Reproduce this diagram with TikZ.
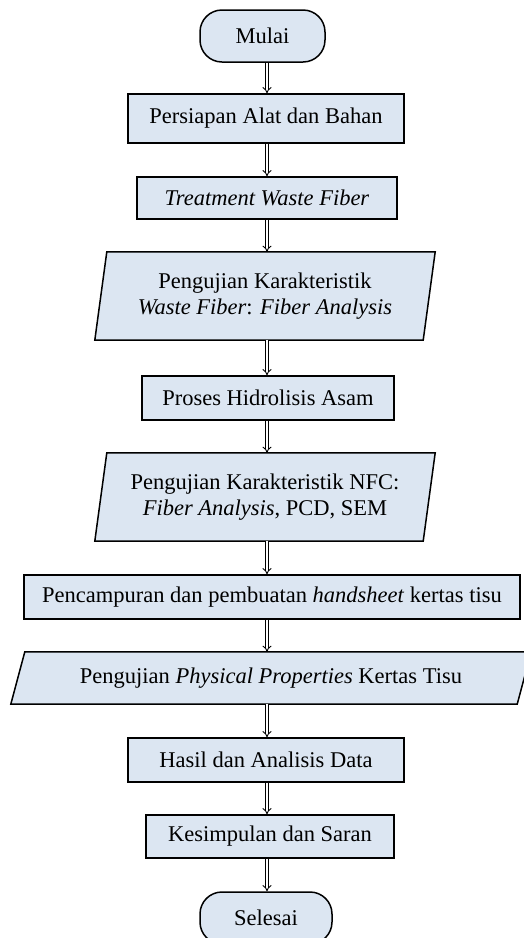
\documentclass[tikz,border=0pt]{standalone}
\usepackage{fontspec}
\setmainfont{Liberation Serif}
\usetikzlibrary{arrows.meta,backgrounds}
\definecolor{boxfill}{RGB}{220,230,242}
\newcommand\mainsz{\fontsize{22.5}{26}\selectfont}
\tikzset{
  box/.style={draw=black, line width=1.5pt, fill=boxfill, inner sep=0pt, align=center, font=\mainsz},
  term/.style={box, rounded corners=22pt},
  ptext/.style={inner sep=0pt, align=center, font=\mainsz},
  pshape/.style={draw=black, line width=1.5pt, fill=boxfill},
  arr/.style={double, double distance=2.2pt, line width=0.9pt, -{Implies}}
}
\begin{document}
\begin{tikzpicture}[x=1pt,y=-1pt]
\useasboundingbox (0,0) rectangle (523,938);
\coordinate (ax) at (267,0);

\node[term, minimum width=125pt, minimum height=52pt] (mulai) at (262.5,36) {Mulai};
\node[box, minimum width=276pt, minimum height=49pt] (persiapan) at (266,118.5) {Persiapan Alat dan Bahan};
\node[box, minimum width=260pt, minimum height=42pt] (treat) at (267,198) {\textit{Treatment Waste Fiber}};
\node[ptext, minimum width=340pt, minimum height=88pt] (uji1) at (265,296) {Pengujian Karakteristik\\\textit{Waste Fiber}: \textit{Fiber Analysis}};
\node[box, minimum width=252pt, minimum height=44pt] (hidro) at (268,398) {Proses Hidrolisis Asam};
\node[ptext, minimum width=340pt, minimum height=88pt] (uji2) at (265,497) {Pengujian Karakteristik NFC:\\\textit{Fiber Analysis}, PCD, SEM};
\node[box, minimum width=496pt, minimum height=44pt] (campur) at (272,597) {Pencampuran dan pembuatan \textit{handsheet} kertas tisu};
\node[ptext, minimum width=520pt, minimum height=52pt] (uji3) at (271,678) {Pengujian \textit{Physical Properties} Kertas Tisu};
\node[box, minimum width=276pt, minimum height=44pt] (hasil) at (266,760) {Hasil dan Analisis Data};
\node[box, minimum width=248pt, minimum height=43pt] (simpul) at (270,836.5) {Kesimpulan dan Saran};
\node[term, minimum width=132pt, minimum height=52pt] (selesai) at (266,918) {Selesai};

\begin{pgfonlayer}{background}
\draw[pshape] (uji1.south west) -- ([xshift=-12pt]uji1.south east) -- (uji1.north east) -- ([xshift=12pt]uji1.north west) -- cycle;
\draw[pshape] (uji2.south west) -- ([xshift=-12pt]uji2.south east) -- (uji2.north east) -- ([xshift=12pt]uji2.north west) -- cycle;
\draw[pshape] (uji3.south west) -- ([xshift=-14pt]uji3.south east) -- (uji3.north east) -- ([xshift=14pt]uji3.north west) -- cycle;
\end{pgfonlayer}

\draw[arr] (mulai.south -| ax) -- (persiapan.north -| ax);
\draw[arr] (persiapan.south -| ax) -- (treat.north -| ax);
\draw[arr] (treat.south -| ax) -- (uji1.north -| ax);
\draw[arr] (uji1.south -| ax) -- (hidro.north -| ax);
\draw[arr] (hidro.south -| ax) -- (uji2.north -| ax);
\draw[arr] (uji2.south -| ax) -- (campur.north -| ax);
\draw[arr] (campur.south -| ax) -- (uji3.north -| ax);
\draw[arr] (uji3.south -| ax) -- (hasil.north -| ax);
\draw[arr] (hasil.south -| ax) -- (simpul.north -| ax);
\draw[arr] (simpul.south -| ax) -- (selesai.north -| ax);
\end{tikzpicture}
\end{document}
